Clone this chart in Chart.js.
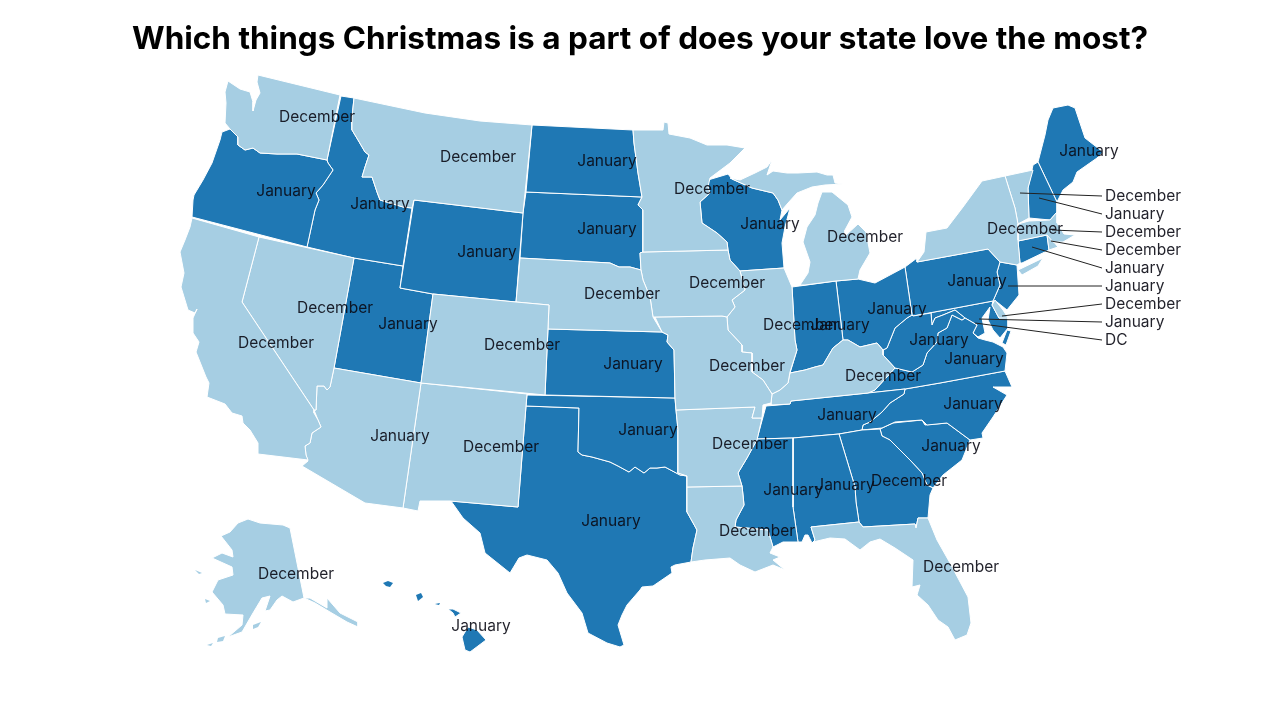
<!DOCTYPE html>
<html><head><meta charset="utf-8">
<style>html,body{margin:0;padding:0;background:#fff}#wrap{width:1280px;height:720px}</style>
<script src="https://cdn.jsdelivr.net/npm/chart.js@4"></script>
</head><body><div id="wrap"><canvas id="c" width="1280" height="720"></canvas></div>
<script>
const titleText = "Which things Christmas is a part of does your state love the most?";
const colorDecember = "#a6cee3", colorJanuary = "#1f78b4";

const WA=[[258,75],[340,95],[327,160],[297,154],[277,154],[260,153],[253,148],[245,150],[238,145],[238,137],[230,129],[225,123],[226,103],[225,92],[228,81],[240,89],[250,92],[253,102],[253,111],[256,100],[260,93],[257,82]];
const OR=[[222,132],[230,129],[238,137],[238,145],[245,150],[253,148],[260,153],[277,154],[297,154],[327,160],[328,163],[333,170],[323,185],[316,193],[319,200],[315,210],[307,247],[192,217],[193,200],[194,195],[203,180],[212,163],[220,140]];
const CA=[[192,218],[259,237],[242,302],[314,410],[314,413],[318,420],[321,427],[312,433],[310,443],[305,446],[306,455],[308,460],[258,454],[258,443],[250,430],[243,423],[242,416],[232,413],[225,404],[207,397],[209,383],[206,377],[196,352],[199,342],[193,333],[193,318],[197,309],[195,313],[188,310],[181,287],[184,273],[180,252],[185,240],[190,227]];
const NV=[[259,237],[354,258],[350,280],[334,368],[330,387],[327,390],[324,386],[317,386],[316,410],[314,410],[242,302]];
const ID=[[341,96],[354,98],[352,117],[352,130],[358,140],[365,152],[369,155],[365,167],[362,177],[372,177],[377,192],[380,200],[403,207],[412,208],[403,266],[354,258],[307,247],[315,210],[319,200],[316,193],[323,185],[333,170],[328,163],[327,160]];
const MT=[[354,98],[425,113],[480,121],[532,125],[523,213],[414,200],[412,208],[403,207],[380,200],[377,192],[372,177],[362,177],[365,167],[369,155],[365,152],[358,140],[352,130],[352,117]];
const WY=[[414,200],[523,213],[516,302],[433,294],[400,288]];
const UT=[[354,258],[403,266],[400,288],[433,294],[421,383],[334,368]];
const CO=[[433,294],[516,302],[549,305],[545,395],[421,383]];
const AZ=[[334,368],[421,383],[403,508],[365,503],[302,466],[308,461],[306,455],[305,446],[310,443],[312,433],[321,427],[318,420],[314,410],[316,410],[317,386],[324,386],[327,390],[330,387]];
const NM=[[421,383],[527,394],[526,406],[518,507],[450,501],[420,501],[418,511],[403,508]];
const ND=[[532,125],[633,130],[634,143],[638,173],[642,197],[526,192]];
const SD=[[526,192],[642,197],[638,205],[643,210],[643,252],[640,253],[641,270],[630,267],[619,267],[610,263],[520,258],[523,213]];
const NE=[[520,258],[610,263],[619,267],[630,267],[641,270],[643,280],[650,297],[653,317],[662,332],[548,329],[549,305],[516,302]];
const KS=[[548,329],[662,332],[668,335],[667,342],[674,350],[675,398],[545,395]];
const OK=[[527,395],[675,398],[676,410],[678,430],[678,473],[687,476],[680,475],[665,467],[657,468],[650,468],[644,473],[635,467],[629,472],[618,466],[610,462],[592,457],[582,455],[578,452],[579,408],[526,406]];
const TX=[[526,406],[579,408],[578,452],[582,455],[592,457],[610,462],[618,466],[629,472],[635,467],[644,473],[650,468],[657,468],[665,467],[680,475],[687,476],[687,512],[697,530],[693,548],[691,562],[675,565],[671,567],[672,573],[653,586],[642,587],[640,590],[627,605],[622,615],[618,625],[624,645],[620,647],[607,643],[588,633],[582,613],[567,593],[558,573],[547,560],[527,555],[519,558],[510,573],[485,553],[480,533],[463,518],[451,501],[518,507]];
const MN=[[633,130],[663,130],[664,122],[668,123],[669,134],[690,138],[707,145],[727,145],[745,148],[730,163],[710,178],[708,187],[710,193],[700,202],[702,223],[717,233],[727,242],[728,250],[643,252],[643,210],[638,205],[642,197],[638,173],[634,143]];
const IA=[[640,253],[643,252],[728,250],[730,260],[740,271],[745,290],[732,300],[735,307],[727,317],[722,316],[655,317],[653,317],[650,297],[643,280],[641,270]];
const MO=[[655,317],[722,316],[727,317],[728,330],[742,345],[742,352],[752,353],[752,372],[763,380],[772,394],[771,403],[763,405],[762,418],[752,418],[755,407],[676,410],[675,398],[674,350],[667,342],[668,335],[662,332]];
const AR=[[676,410],[755,407],[752,418],[762,418],[757,440],[747,458],[738,473],[742,486],[687,487],[687,476],[678,473],[678,430]];
const LA=[[687,487],[742,486],[743,495],[744,505],[736,520],[735,527],[768,530],[773,547],[770,553],[780,557],[773,560],[785,570],[773,565],[755,572],[740,565],[730,558],[705,560],[691,562],[693,548],[697,530],[687,512]];
const MS=[[757,439],[793,438],[793,507],[798,542],[783,542],[773,547],[768,530],[735,527],[736,520],[744,505],[743,495],[742,486],[738,473],[747,458]];
const AL=[[793,438],[839,434],[855,487],[856,502],[859,522],[811,527],[815,540],[812,543],[808,535],[805,535],[802,542],[798,542],[793,507]];
const GA=[[839,434],[862,430],[880,429],[882,436],[890,440],[902,452],[910,460],[922,473],[927,485],[933,488],[930,495],[928,518],[918,518],[916,528],[915,524],[863,527],[859,522],[856,502],[855,487]];
const FL=[[811,527],[859,522],[863,527],[915,524],[916,528],[918,518],[928,518],[937,540],[950,563],[968,597],[971,623],[967,635],[955,640],[948,627],[938,620],[928,605],[917,595],[920,585],[912,587],[913,560],[895,548],[880,539],[870,542],[860,550],[845,539],[830,538],[813,542],[815,540]];
const WI=[[708,180],[728,174],[732,179],[752,188],[773,193],[778,200],[782,210],[780,220],[790,208],[785,227],[782,243],[784,268],[740,271],[730,260],[728,250],[727,242],[717,233],[702,223],[700,202],[710,193],[708,187]];
const MIU=[[730,178],[740,180],[755,173],[767,167],[772,160],[767,175],[773,171],[787,173],[798,173],[817,172],[827,175],[833,175],[835,183],[843,184],[825,185],[812,187],[797,193],[788,203],[782,210],[778,200],[773,193],[752,188],[732,179]];
const MIL=[[822,192],[832,192],[848,205],[852,217],[845,230],[845,236],[858,224],[866,232],[870,253],[860,270],[858,279],[836,281],[805,285],[800,285],[808,273],[810,262],[803,242],[807,227],[815,215],[818,203]];
const IL=[[740,271],[784,268],[792,287],[795,340],[797,350],[790,372],[788,383],[780,390],[772,394],[763,380],[752,372],[752,353],[742,352],[742,345],[728,330],[727,317],[735,307],[732,300],[745,290]];
const IN=[[792,287],[836,281],[843,340],[833,348],[823,365],[815,367],[805,370],[790,373],[797,350],[795,340]];
const OH=[[836,281],[858,279],[875,283],[905,267],[912,315],[907,318],[895,328],[887,348],[883,350],[877,343],[860,347],[848,340],[843,340]];
const KY=[[790,373],[805,370],[815,367],[823,365],[833,348],[843,340],[848,340],[860,347],[877,343],[883,350],[883,355],[895,368],[875,390],[868,393],[791,401],[790,404],[772,405],[771,403],[772,394],[780,390],[788,383]];
const TN=[[766,406],[790,404],[791,401],[868,393],[905,389],[904,394],[890,403],[882,412],[870,422],[863,425],[862,430],[839,434],[793,438],[757,439]];
const WV=[[912,315],[913,316],[931,313],[932,325],[935,318],[943,315],[955,310],[965,318],[962,320],[952,315],[947,328],[938,333],[937,342],[927,353],[923,365],[912,372],[895,368],[883,355],[883,350],[887,348],[895,328],[907,318]];
const VA=[[868,393],[875,390],[895,368],[912,372],[923,365],[927,353],[937,342],[938,333],[947,328],[952,315],[962,320],[965,318],[977,325],[973,333],[978,338],[985,340],[993,342],[1003,347],[1007,353],[1005,371],[940,383],[905,389]];
const VAE=[[1007,330],[1011,331],[1006,345],[1002,343]];
const NC=[[905,389],[940,383],[1005,371],[1012,387],[993,387],[1007,395],[993,417],[982,433],[983,438],[970,440],[947,423],[927,425],[922,420],[895,422],[882,428],[862,430],[863,425],[870,422],[882,412],[890,403],[904,394]];
const SC=[[880,429],[893,423],[922,420],[925,425],[947,423],[970,440],[962,460],[943,475],[933,488],[927,485],[922,473],[910,460],[902,452],[890,440],[882,436]];
const PA=[[905,267],[917,258],[917,262],[988,249],[1000,262],[997,272],[1000,285],[993,301],[913,316],[912,315]];
const NY=[[917,262],[924,252],[926,232],[947,228],[963,207],[982,181],[1005,176],[1015,208],[1018,224],[1018,240],[1020,263],[1017,265],[1000,262],[988,249]];
const LI=[[1018,270],[1043,258],[1038,266],[1022,275]];
const NJ=[[1000,262],[1017,265],[1019,295],[1007,310],[997,302],[993,301],[1000,285],[997,272]];
const DE=[[995,300],[992,305],[999,318],[1008,318],[1003,310]];
const MD=[[913,316],[993,301],[992,305],[999,318],[1008,318],[1008,328],[1000,338],[993,330],[988,320],[990,307],[982,318],[985,333],[978,337],[973,333],[977,325],[965,318],[955,310],[943,315],[935,318],[932,325],[931,313]];
const VT=[[1005,176],[1033,170],[1028,188],[1029,218],[1018,224],[1015,208]];
const NH=[[1033,165],[1038,162],[1057,202],[1057,212],[1050,220],[1029,218],[1028,188]];
const ME=[[1038,162],[1045,135],[1048,120],[1053,108],[1068,105],[1075,108],[1085,138],[1103,152],[1097,158],[1077,172],[1073,182],[1063,190],[1057,202]];
const MA=[[1018,224],[1029,221],[1050,220],[1057,212],[1057,223],[1064,234],[1075,235],[1063,242],[1053,242],[1047,235],[1018,241]];
const CT=[[1018,241],[1047,235],[1049,250],[1022,263],[1020,263]];
const RI=[[1047,235],[1053,241],[1058,247],[1049,250]];
const AK=[[248,519],[260,523],[283,525],[290,528],[304,598],[293,602],[282,596],[277,600],[270,610],[265,611],[270,596],[262,598],[253,613],[242,632],[228,637],[242,625],[243,615],[225,614],[223,605],[212,592],[218,580],[233,575],[232,567],[212,558],[222,553],[233,557],[232,550],[221,536],[230,532],[238,523]];
const AKP=[[304,598],[310,598],[327,608],[327,598],[340,613],[358,622],[358,627],[347,622],[330,612],[315,603]];
const AK1=[[253,625],[261,622],[258,627],[253,629]];
const AK2=[[207,645],[213,643],[211,646]];
const AK3=[[218,638],[225,636],[223,641],[217,642]];
const AK4=[[195,570],[202,573],[199,574]];
const AK5=[[205,599],[210,601],[206,603]];
const HI1=[[383,583],[388,581],[393,583],[390,587],[386,586]];
const HI2=[[416,595],[421,593],[423,597],[418,601]];
const HI3=[[435,604],[440,603],[439,605]];
const HI4=[[448,609],[453,609],[461,613],[455,617],[453,613]];
const HI5=[[468,627],[477,630],[486,640],[470,652],[465,650],[462,637]];

const decemberShapes = [WA,CA,NV,MT,CO,AZ,NM,NE,MN,IA,MO,AR,LA,FL,MIU,MIL,IL,KY,NY,LI,DE,VT,MA,RI,AK,AKP,AK1,AK2,AK3,AK4,AK5];
const januaryShapes = [OR,ID,WY,UT,ND,SD,KS,OK,TX,WI,MS,AL,GA,IN,OH,TN,WV,VA,VAE,NC,SC,PA,NJ,MD,NH,ME,CT,HI1,HI2,HI3,HI4,HI5];
const tinyShapes = [AK1,AK2,AK3,AK4,AK5,HI1,HI2,HI3];

const labelNames = ["December","December","January","January","January","December","December","January","January","January","January","December","January","December","December","December","December","January","January","January","December","December","January","December","December","January","December","January","January","January","January","January","January","January","January","December","December","December","January","January","January","January","December"];
const labelX = [317,478,286,380,487,335,276,408,607,607,770,712,1089,865,1025,727,801,840,897,977,522,622,633,747,883,939,501,974,648,847,973,951,611,793,845,909,757,750,400,481,0,0,961];
const labelY = [117,157,191,204,252,308,343,324,161,229,224,189,151,237,229,283,325,325,309,281,345,294,364,366,376,340,447,359,430,415,404,446,521,490,485,481,531,444,436,626,0,0,567];
labelX[40]=296; labelY[40]=574; labelNames[40]="December";
labelX[41]=-100; labelY[41]=-100;

const calloutNames = ["December","January","December","December","January","January","December","January","DC"];
const calloutY = [196,214,232,250,268,286,304,322,340];
const calloutFromX = [1020,1039,1052,1051,1032,1008,1002,979,975];
const calloutFromY = [193,198,230,241,247,286,316,319,323];
const calloutToX = 1102, calloutTextX = 1105;

const pts = a => { const p = a.map(q => ({x:q[0], y:q[1]})); p.push({x:a[0][0], y:a[0][1]}); return p; };
const shapeSet = (list, color) => list.map(s => ({
  data: pts(s), backgroundColor: color, fill: 'shape',
  borderColor: '#ffffff', borderWidth: tinyShapes.includes(s) ? 0 : 1,
  pointRadius: 0, tension: 0, clip: false, borderJoinStyle: 'round'
}));
const calloutSets = calloutY.map((y,i) => ({
  data: [{x:calloutFromX[i], y:calloutFromY[i]},{x:calloutToX, y:y}],
  borderColor:'#222222', borderWidth:1, pointRadius:0, fill:false, tension:0
}));

const labelFont = '400 15.5px Inter';
const textPlugin = {
  id:'stateText',
  afterDatasetsDraw(chart){
    const {ctx, scales:{x,y}} = chart;
    ctx.save();
    ctx.font = labelFont; ctx.fillStyle = 'rgba(10,10,20,0.9)'; ctx.textBaseline='middle';
    ctx.textAlign='center';
    labelNames.forEach((t,i)=>{ if(labelX[i]>0) ctx.fillText(t, x.getPixelForValue(labelX[i]), y.getPixelForValue(labelY[i])); });
    ctx.textAlign='left';
    calloutNames.forEach((t,i)=> ctx.fillText(t, x.getPixelForValue(calloutTextX), y.getPixelForValue(calloutY[i])));
    ctx.restore();
  }
};

new Chart(document.getElementById('c'), {
  type:'line',
  data:{ datasets:[...calloutSets, ...shapeSet(decemberShapes,colorDecember), ...shapeSet(januaryShapes,colorJanuary)] },
  options:{
    responsive:false, animation:false, parsing:false, normalized:false,
    layout:{padding:0},
    scales:{
      x:{type:'linear', min:0, max:1280, display:false},
      y:{type:'linear', min:70, max:720, reverse:true, display:false}
    },
    plugins:{
      legend:{display:false}, tooltip:{enabled:false},
      title:{display:true, text:titleText, color:'#000', font:{family:'Inter', size:31.5, weight:'700', lineHeight:1.2}, padding:{top:21, bottom:11.2}}
    }
  },
  plugins:[textPlugin]
});
</script></body></html>
